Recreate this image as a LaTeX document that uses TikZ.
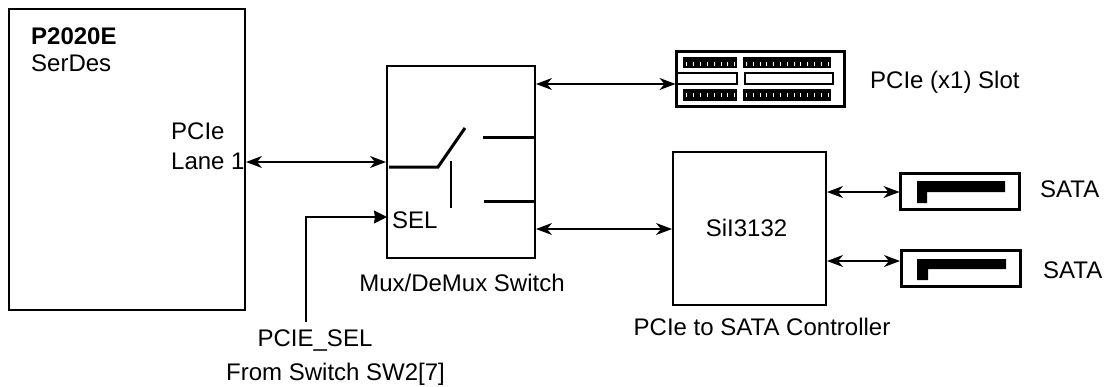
\documentclass[tikz,border=0pt]{standalone}
\usepackage{fontspec}
\setmainfont{Liberation Sans}
\usetikzlibrary{arrows.meta}
\tikzset{
  blockbox/.style={draw, line width=2pt, inner sep=0pt, outer sep=0pt},
  sockbox/.style={draw, line width=3pt, inner sep=0pt, outer sep=0pt},
  lbl/.style={inner sep=0pt, anchor=base west, font=\fontsize{24}{28}\selectfont},
  clbl/.style={inner sep=0pt, anchor=base, font=\fontsize{24}{28}\selectfont},
  dbl/.style={{Stealth[length=16pt,width=12pt,inset=5pt]}-{Stealth[length=16pt,width=12pt,inset=5pt]}, line width=1.3pt, shorten >=1pt, shorten <=1pt},
  sgl/.style={-{Stealth[length=13pt,width=13pt,inset=1pt]}, line width=1.6pt},
  contact/.style={line width=3pt}
}
\begin{document}
\begin{tikzpicture}[x=1pt,y=-1pt]
\useasboundingbox (0,0) rectangle (1105,386);

% blocks
\node[blockbox, minimum width=236, minimum height=301] (soc) at (127,159.5) {};
\node[blockbox, minimum width=148, minimum height=192] (mux) at (461,162) {};
\node[sockbox, minimum width=168, minimum height=55] (slot) at (760.5,78.5) {};
\node[blockbox, minimum width=153, minimum height=153] (ctrl) at (749.5,228.5) {};
\node[sockbox, minimum width=119, minimum height=36] (sataA) at (960,191.5) {};
\node[sockbox, minimum width=119, minimum height=36] (sataB) at (960.5,268.5) {};

% heights of the connectors
\coordinate (lane) at (0,162);
\coordinate (sel) at (0,217);
\coordinate (slotline) at (0,84);
\coordinate (ctrlline) at (0,229);
\coordinate (sataAline) at (0,192);
\coordinate (sataBline) at (0,261);
\coordinate (selend) at (306,322);

% slot pins
\foreach \x/\w in {683/54,743/88} {
  \fill (\x,57) rectangle (\x+\w,68);
  \fill (\x,89) rectangle (\x+\w,101);
}
\foreach \i in {0,...,7} {
  \fill[white] (686+\i*6.9,61.5) rectangle (687+\i*6.9,65.5);
  \fill[white] (686+\i*6.9,93) rectangle (687+\i*6.9,97);
}
\foreach \i in {0,...,12} {
  \fill[white] (746+\i*6.8,61.5) rectangle (747+\i*6.8,65.5);
  \fill[white] (746+\i*6.8,93) rectangle (747+\i*6.8,97);
}
\draw[line width=2.6pt] (677,73) -- (737,73) -- (737,84) -- (677,84);
\draw[line width=2.6pt] (745,73) rectangle (833,84);

% sata sockets
\fill (917,181) -- (1005,181) -- (1005,192) -- (927,192) -- (927,203) -- (917,203) -- cycle;
\fill (917,259) -- (1006,259) -- (1006,269) -- (928,269) -- (928,280) -- (917,280) -- cycle;

% switch inside the mux
\draw[contact] (389,167) -- (438,167) -- (465,128);
\draw[contact] (483,137) -- (mux.east |- 0,137);
\draw[contact] (484,201) -- (mux.east |- 0,201);
\draw[line width=1.6pt] (451,161) -- (451,208);

% connectors
\draw[dbl] (soc.east |- lane) -- (mux.west |- lane);
\draw[dbl] (mux.east |- slotline) -- (slot.west |- slotline);
\draw[dbl] (mux.east |- ctrlline) -- (ctrl.west |- ctrlline);
\draw[dbl] (ctrl.east |- sataAline) -- (sataA.west |- sataAline);
\draw[dbl] (ctrl.east |- sataBline) -- (sataB.west |- sataBline);
\draw[sgl] (selend) |- (mux.west |- sel);

% labels
\node[lbl] (socname) at (31,44) {\textbf{P2020E}};
\node[lbl] (socsub) at (31,71) {SerDes};
\node[lbl] (pcie) at (171,139) {PCIe};
\node[lbl] (lanelbl) at (171,169) {Lane 1};
\node[lbl] (sellbl) at (392,228) {SEL};
\node[clbl] (muxlbl) at (462,291) {Mux/DeMux Switch};
\node[lbl] (slotlbl) at (870,88) {PCIe (x1) Slot};
\node[clbl] (chip) at (746.5,236) {SiI3132};
\node[clbl] (ctrllbl) at (762,335) {PCIe to SATA Controller};
\node[lbl] (sataAlbl) at (1040,197) {SATA};
\node[lbl] (sataBlbl) at (1043,278) {SATA};
\node[clbl] (sellabel) at (315,346) {PCIE\_SEL};
\node[lbl] (swlbl) at (226,380) {From Switch SW2[7]};
\end{tikzpicture}
\end{document}
